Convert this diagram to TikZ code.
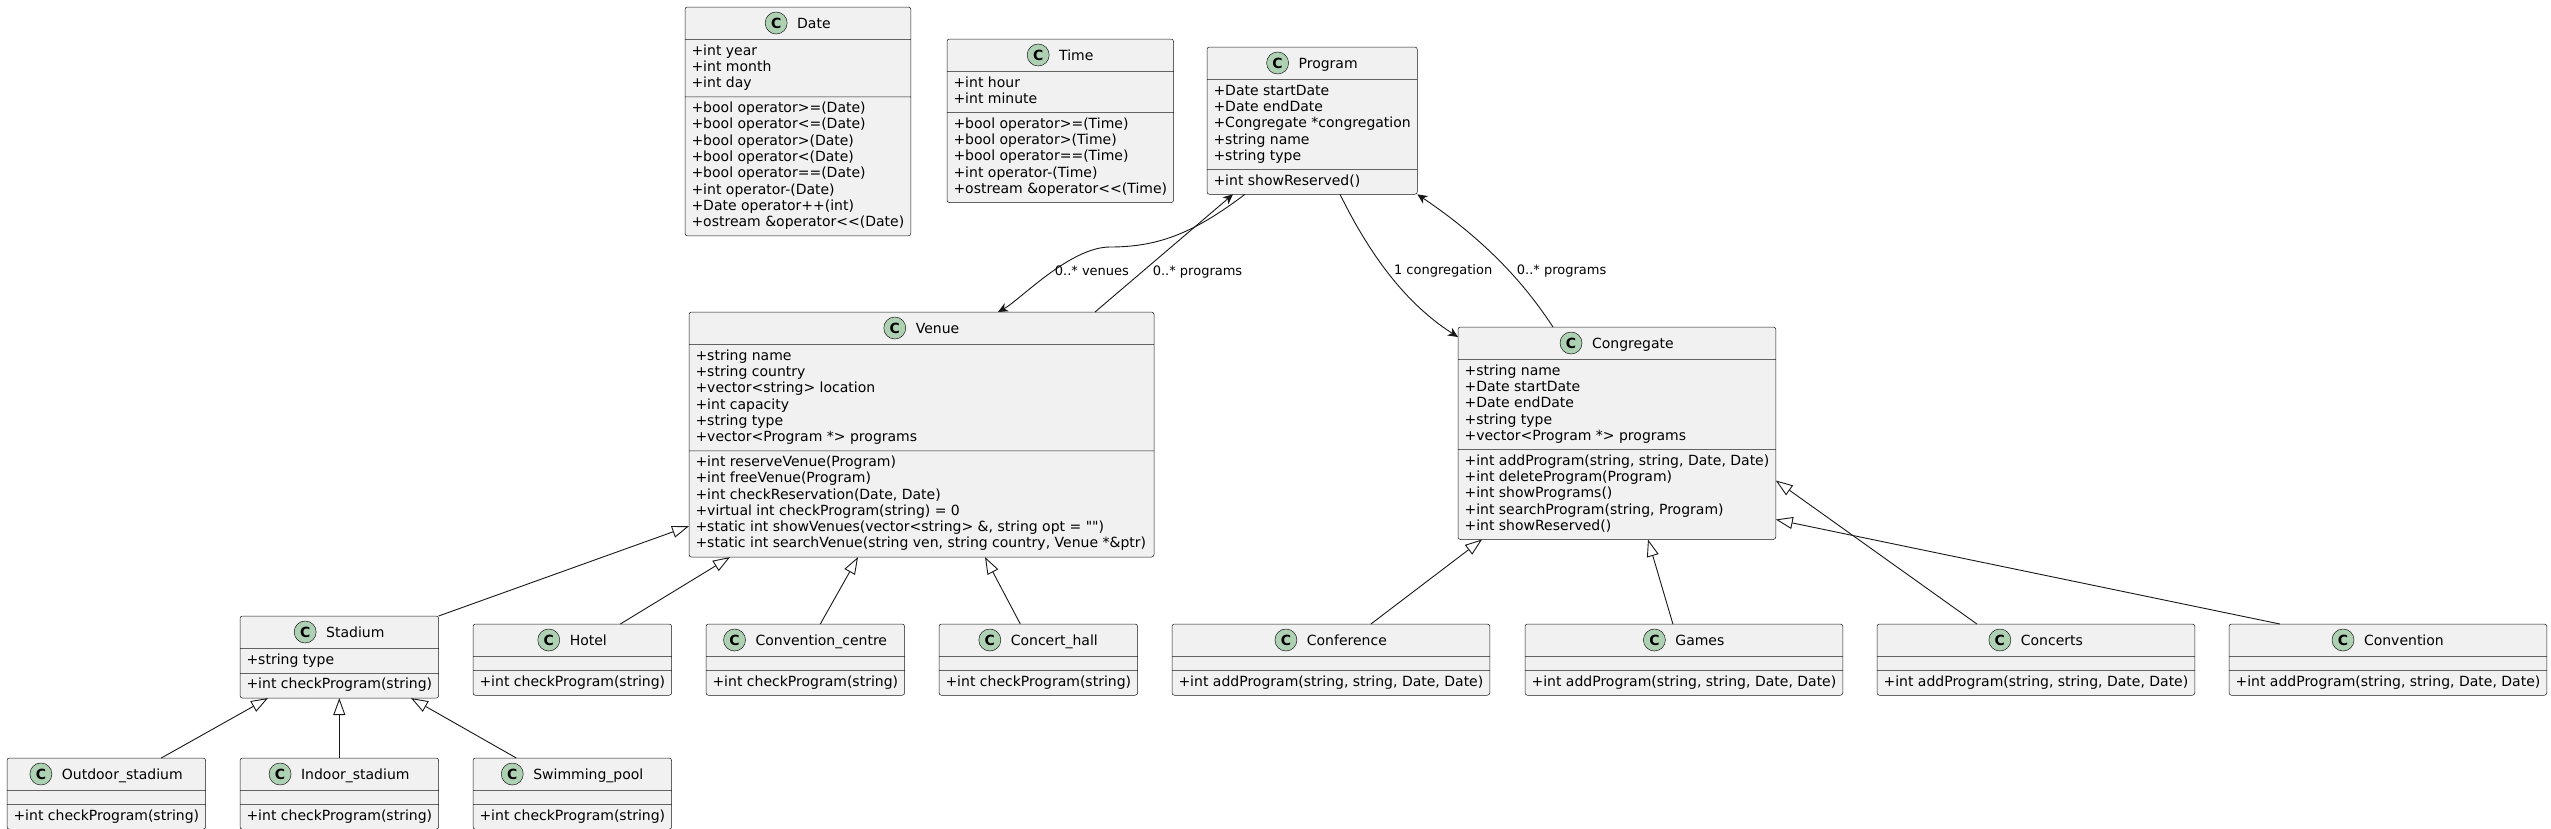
\documentclass[tikz,border=0pt]{standalone}
\usepackage{fontspec}
\setmainfont{DejaVu Sans}
\newfontfamily\plainfamily{DejaVu Sans}
\usetikzlibrary{shapes.multipart,arrows.meta,calc,positioning}

\definecolor{classbg}{HTML}{F1F1F1}
\definecolor{classline}{HTML}{181818}
\definecolor{iconbg}{HTML}{ADD1B2}

\newcommand{\classfont}{\fontsize{14}{16.3}\selectfont}
\newlength{\headw}

\tikzset{
  classbox/.style={rectangle split, rectangle split parts=3, draw=classline, fill=classbg,
    line width=0.5pt, rounded corners=2.5pt, inner xsep=6.5pt, inner ysep=4pt, outer sep=0pt,
    align=left, rectangle split part align={center,left,left},
    rectangle split empty part height=0pt, rectangle split empty part depth=0pt,
    rectangle split empty part width=0pt, font=\classfont},
  classicon/.style={circle, draw=classline, fill=iconbg, line width=0.5pt, minimum size=22pt,
    inner sep=0pt, font=\bfseries\fontsize{14}{14}\selectfont},
  assoc/.style={draw=classline, line width=0.9pt, -{Stealth[length=10pt,width=9pt,inset=3pt]}},
  extends/.style={draw=classline, line width=0.9pt, -{Triangle[open,length=17pt,width=12pt,fill=white]}},
  lbl/.style={font=\fontsize{13}{15}\selectfont, inner sep=1pt, anchor=west}
}

\newcommand{\umlclass}[6]{%
  \node[classbox, minimum width=#3pt, anchor=north west] (#1) at #2
    {\settowidth{\headw}{#4}\global\headw=\headw
     \rule[-7pt]{0pt}{24pt}\hspace*{32pt}#4%
     \nodepart{two}\if\relax\detokenize{#5}\relax\else\strut#5\strut\fi
     \nodepart{three}\strut#6\strut};
  \node[classicon] (#1-icon) at ($(#1.north)+(-0.5\headw-5pt,16)$) {C};
}

\begin{document}
\begin{tikzpicture}[x=1pt, y=-1pt]
  \path[fill=white, use as bounding box] (0,0) rectangle (2551,828);

  \umlclass{date}{(685,7)}{225}{Date}
    {+int year\\+int month\\+int day}
    {+bool operator>=(Date)\\+bool operator<=(Date)\\+bool operator>(Date)\\+bool operator<(Date)\\+bool operator==(Date)\\+int operator-(Date)\\+Date operator++(int)\\+ostream \&operator<{}<(Date)}
  \umlclass{time}{(947,39)}{225}{Time}
    {+int hour\\+int minute}
    {+bool operator>=(Time)\\+bool operator>(Time)\\+bool operator==(Time)\\+int operator-(Time)\\+ostream \&operator<{}<(Time)}
  \umlclass{program}{(1207,47)}{209}{Program}
    {+Date startDate\\+Date endDate\\+Congregate *congregation\\+string name\\+string type}
    {+int showReserved()}
  \umlclass{venue}{(689,312)}{465}{Venue}
    {+string name\\+string country\\+vector<string> location\\+int capacity\\+string type\\+vector<Program *> programs}
    {+int reserveVenue(Program)\\+int freeVenue(Program)\\+int checkReservation(Date, Date)\\+virtual int checkProgram(string) = 0\\+static int showVenues(vector<string> \&, string opt = {\plainfamily ""})\\+static int searchVenue(string ven, string country, Venue *\&ptr)}
  \umlclass{congregate}{(1458,327)}{317}{Congregate}
    {+string name\\+Date startDate\\+Date endDate\\+string type\\+vector<Program *> programs}
    {+int addProgram(string, string, Date, Date)\\+int deleteProgram(Program)\\+int showPrograms()\\+int searchProgram(string, Program)\\+int showReserved()}

  \umlclass{stadium}{(240,616)}{198}{Stadium}{+string type}{+int checkProgram(string)}
  \umlclass{hotel}{(473,624)}{198}{Hotel}{}{+int checkProgram(string)}
  \umlclass{conventioncentre}{(706,624)}{198}{Convention\_centre}{}{+int checkProgram(string)}
  \umlclass{concerthall}{(939,624)}{198}{Concert\_hall}{}{+int checkProgram(string)}
  \umlclass{outdoor}{(7,758)}{198}{Outdoor\_stadium}{}{+int checkProgram(string)}
  \umlclass{indoor}{(240,758)}{198}{Indoor\_stadium}{}{+int checkProgram(string)}
  \umlclass{swimming}{(473,758)}{198}{Swimming\_pool}{}{+int checkProgram(string)}

  \umlclass{conference}{(1172,624)}{317}{Conference}{}{+int addProgram(string, string, Date, Date)}
  \umlclass{games}{(1525,624)}{316}{Games}{}{+int addProgram(string, string, Date, Date)}
  \umlclass{concerts}{(1877,624)}{316}{Concerts}{}{+int addProgram(string, string, Date, Date)}
  \umlclass{convention}{(2229,624)}{317}{Convention}{}{+int addProgram(string, string, Date, Date)}

  \draw[assoc] ([xshift=38pt]program.south west) .. controls (1195,232) and (1160,247) .. (1110,247)
    .. controls (1070,247) and (1020,300) .. ([xshift=309pt]venue.north west)
    node[lbl, pos=0.45] (lvenues) {0..* venues};
  \draw[assoc] ([xshift=406pt]venue.north west) -- ([xshift=26pt]program.south west)
    node[lbl, pos=0.336, xshift=10pt] (lvprograms) {0..* programs};
  \draw[assoc] ([xshift=133pt]program.south west) .. controls (1365,245) and (1400,300) .. ([yshift=-10pt]congregate.north west)
    node[lbl, pos=0.5, xshift=6pt] (lcongregation) {1 congregation};
  \draw[assoc] ([xshift=95pt]congregate.north west) .. controls (1535,300) and (1500,250) .. (program.south east)
    node[lbl, pos=0.5, xshift=6pt] (lcprograms) {0..* programs};

  \draw[extends] (stadium.north east) -- ([yshift=31pt]venue.south west);
  \draw[extends] ([xshift=48pt]hotel.north) -- ([xshift=41pt]venue.south west);
  \draw[extends] ([xshift=15pt]conventioncentre.north) -- ([xshift=169pt]venue.south west);
  \draw[extends] ([xshift=-18pt]concerthall.north) -- ([xshift=296pt]venue.south west);
  \draw[extends] ([xshift=55pt]outdoor.north) -- ([xshift=28pt]stadium.south west);
  \draw[extends] (indoor.north) -- (stadium.south);
  \draw[extends] ([xshift=-56pt]swimming.north) -- ([xshift=171pt]stadium.south west);
  \draw[extends] ([xshift=40pt]conference.north) -- ([xshift=24pt]congregate.south west);
  \draw[extends] ([xshift=-11pt]games.north) -- ([xshift=190pt]congregate.south west);
  \draw[extends] ([xshift=-59pt]concerts.north) -- ([yshift=59pt]congregate.south east);
  \draw[extends] ([xshift=-108pt]convention.north) -- ([yshift=20pt]congregate.south east);
\end{tikzpicture}
\end{document}
